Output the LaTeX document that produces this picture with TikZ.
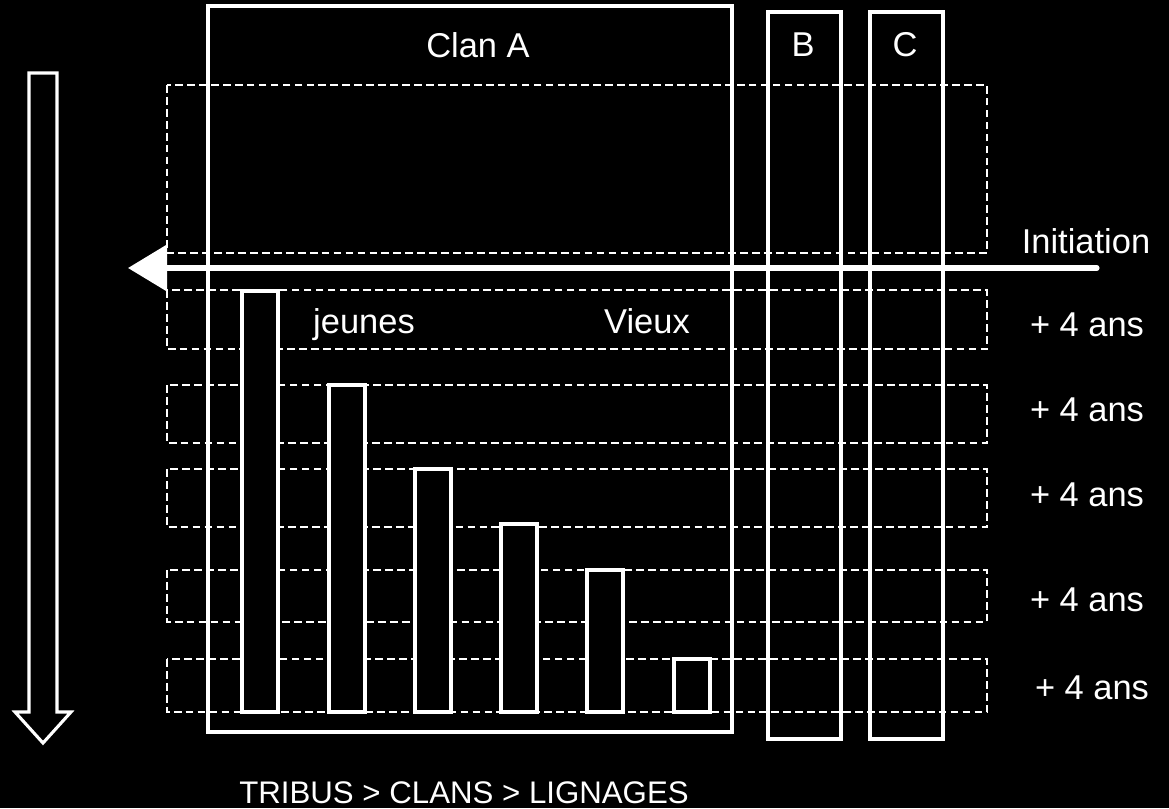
\documentclass[tikz,border=0pt]{standalone}
\usepackage{fontspec}
\setmainfont{Liberation Sans}
\usetikzlibrary{arrows.meta}

\begin{document}
\begin{tikzpicture}[
    x=0.025cm, y=-0.025cm,
    row/.style={draw=white, dashed, line width=1.4pt, dash pattern=on 5.5pt off 3pt},
    clanbox/.style={draw=white, line width=2.6pt},
    bar/.style={draw=white, fill=black, line width=2.6pt},
    txt/.style={text=white, font=\fontsize{24.5}{28}\selectfont, inner sep=0pt},
    initarrow/.style={draw=white, line width=3.6pt, line cap=round,
        -{Triangle[length=0.98cm, width=1.15cm]}},
    bigarrow/.style={draw=white, line width=2.2pt, line join=miter}
]

% background and page size
\fill[black] (0,0) rectangle (1169,808);
\useasboundingbox (0,0) rectangle (1169,808);

% age grades
\foreach \top/\bot in {85/253, 290/349, 385/443, 469/527, 570/622, 659/712}
    \draw[row] (167,\top) rectangle (987,\bot);

% clans
\draw[clanbox] (208,6) rectangle (732,732);
\draw[clanbox] (768,12) rectangle (841,739);
\draw[clanbox] (870,12) rectangle (943,739);

\node[txt] (clanA) at (478,45) {Clan A};
\node[txt] (clanB) at (803,45) {B};
\node[txt] (clanC) at (905,45) {C};

% lineages
\foreach \x/\top in {242/291, 329/385, 415/469, 501/524, 587/570, 674/659}
    \draw[bar] (\x,712) rectangle (\x+36,\top);

\node[txt] (jeunes) at (364,325) {jeunes};
\node[txt] (vieux) at (647,321) {Vieux};

% initiation
\coordinate (initstart) at (1097,268);
\coordinate (initend) at (128,268);
\draw[initarrow] (initstart) -- (initend);
\node[txt] (initiation) at (1086,241) {Initiation};

\node[txt] (age1) at (1087,325) {+ 4 ans};
\node[txt] (age2) at (1087,410) {+ 4 ans};
\node[txt] (age3) at (1087,495) {+ 4 ans};
\node[txt] (age4) at (1087,600) {+ 4 ans};
\node[txt] (age5) at (1092,688) {+ 4 ans};

% time arrow
\draw[bigarrow] (29,73) -- (57,73) -- (57,712) -- (71,712) -- (43,743)
    -- (15,712) -- (29,712) -- cycle;

\node[txt, font=\fontsize{22.2}{26}\selectfont] (tribus) at (464,793) {TRIBUS > CLANS > LIGNAGES};

\end{tikzpicture}
\end{document}
